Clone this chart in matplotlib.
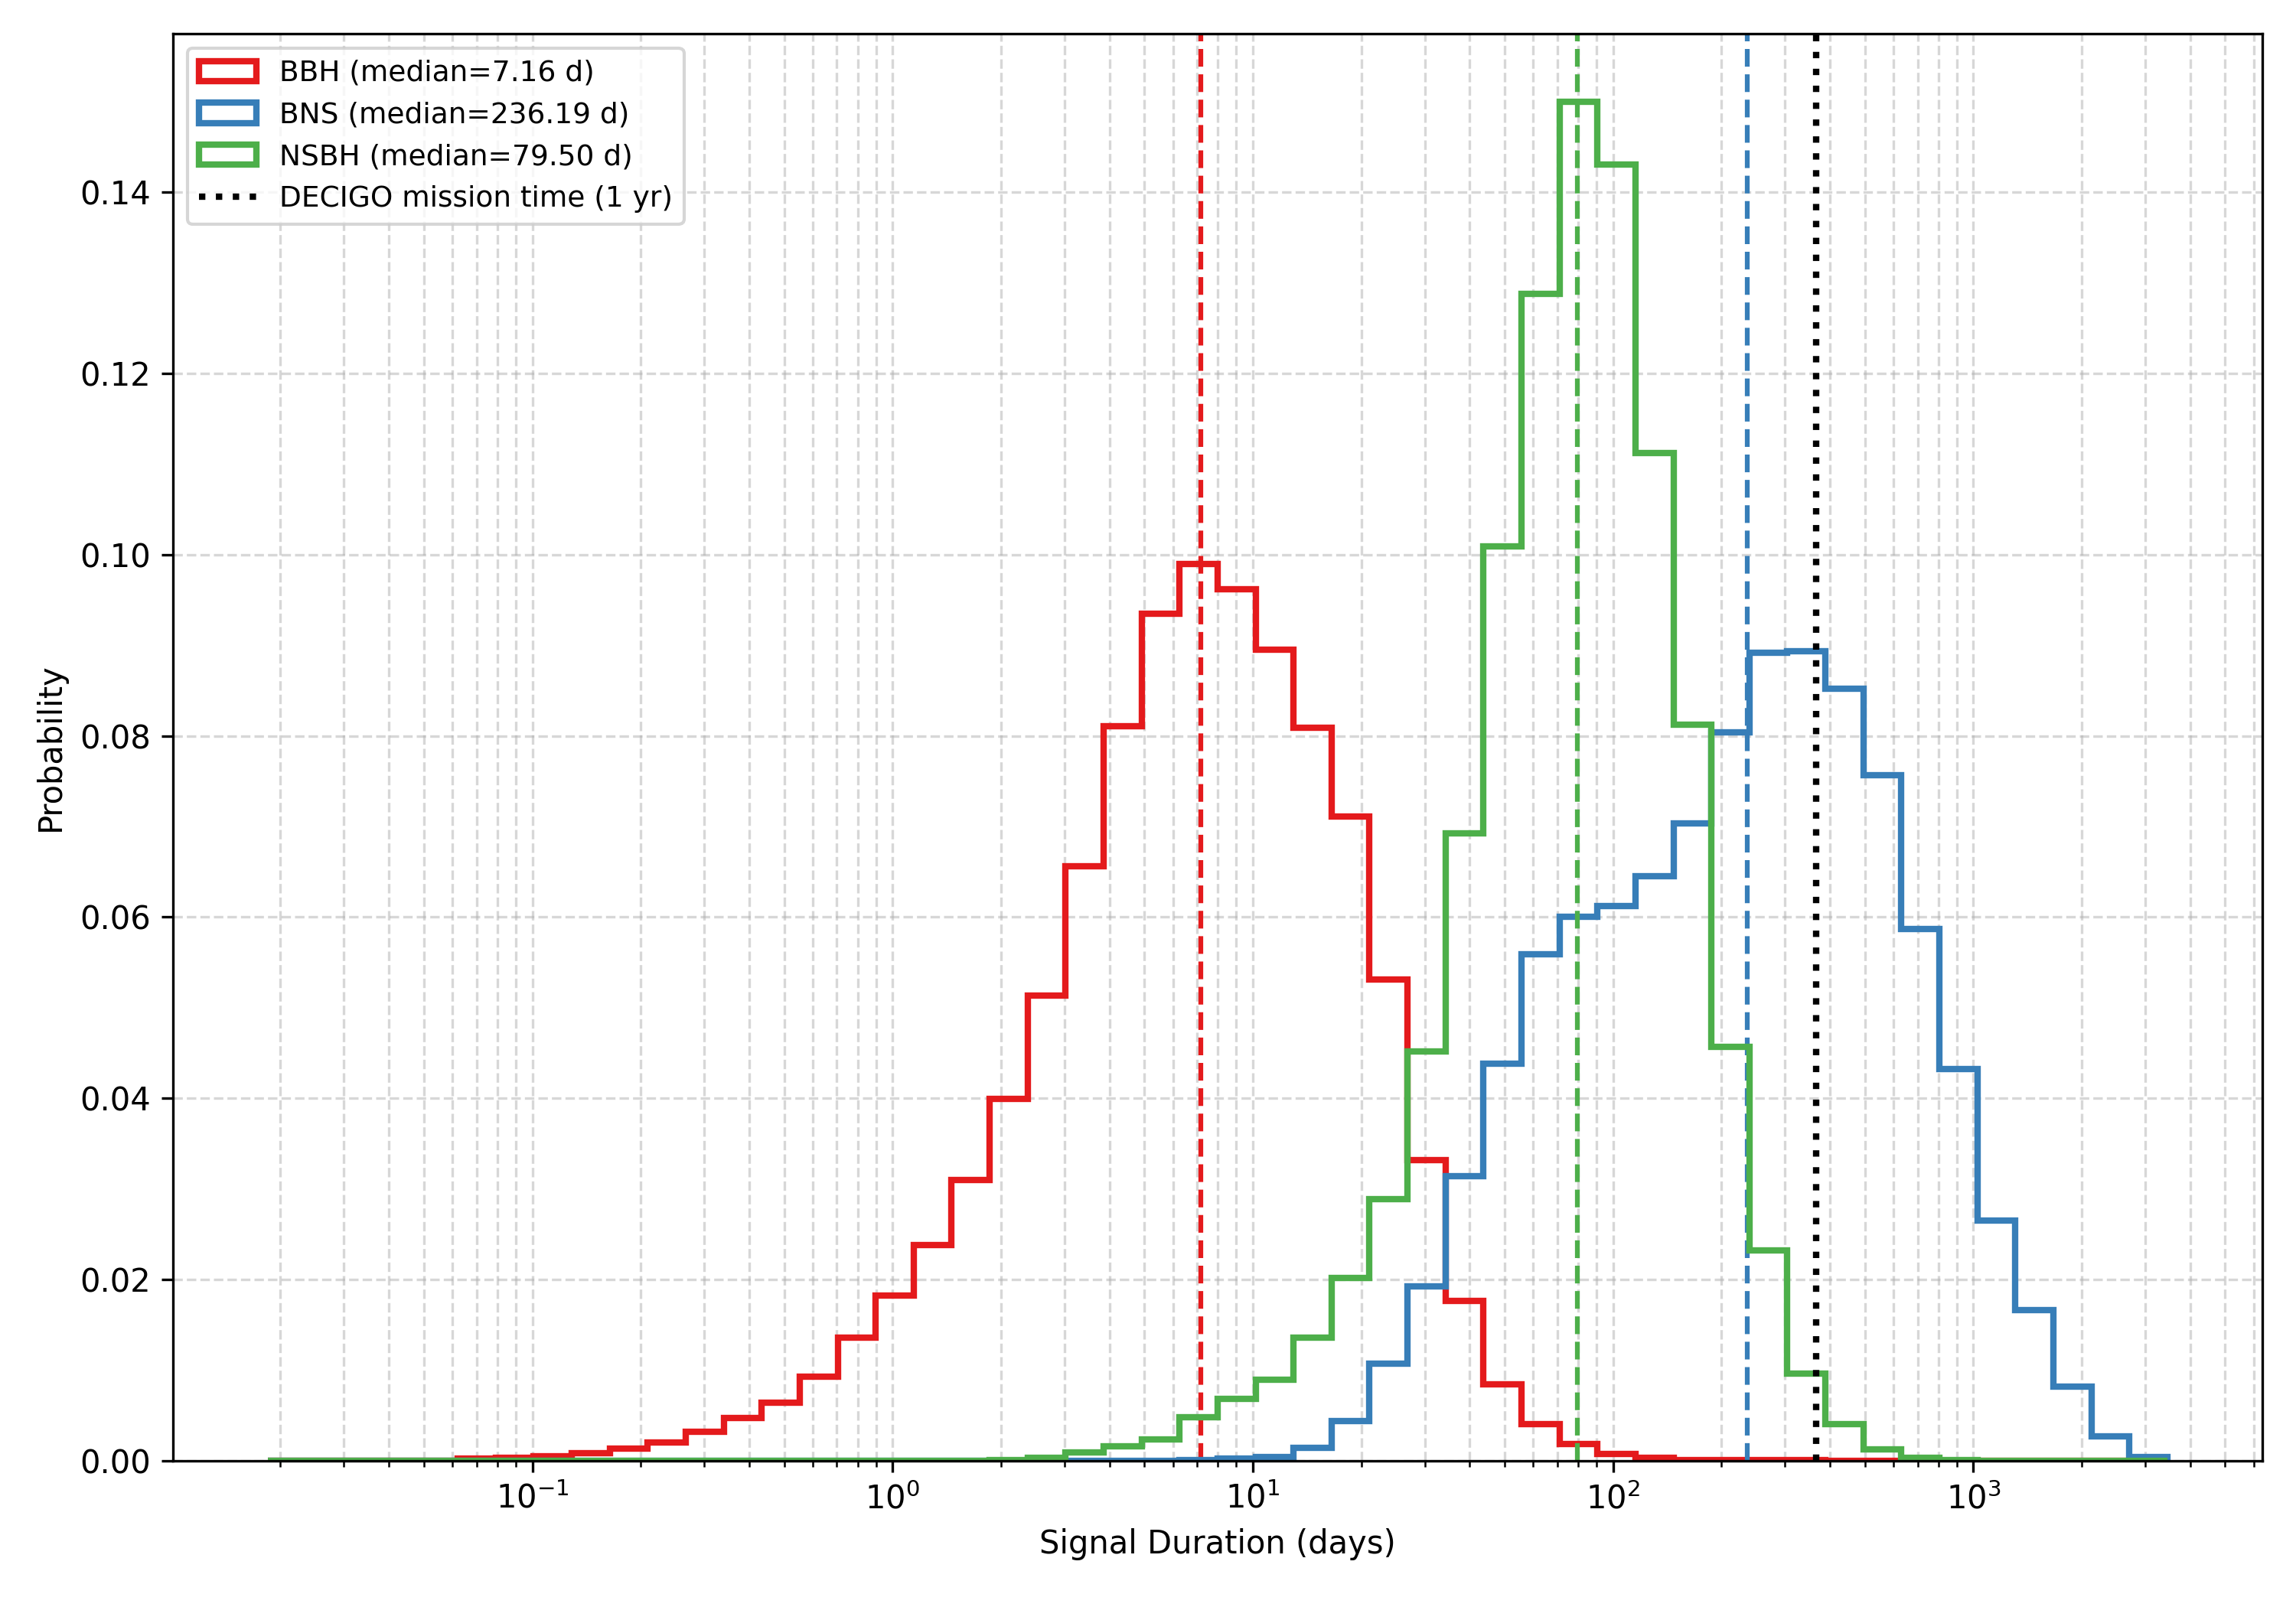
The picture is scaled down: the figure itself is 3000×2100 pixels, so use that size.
import numpy as np
import matplotlib
matplotlib.use("Agg")
import matplotlib.pyplot as plt

# Log-spaced bins shared by all three populations (days)
bin_min = 0.01845
bin_max = 3453.0
n_bins = 50

# Probability per bin
bbh_prob = [
    0, 0, 0, 0, 0, 0.0002, 0.0003, 0.0005, 0.0008, 0.0013,
    0.0020, 0.0032, 0.0047, 0.0064, 0.0093, 0.0136, 0.0182, 0.0238, 0.0310, 0.0399,
    0.0513, 0.0656, 0.0811, 0.0935, 0.0990, 0.0962, 0.0895, 0.0809, 0.0711, 0.0531,
    0.0332, 0.0176, 0.0084, 0.0040, 0.0018, 0.0007, 0.0003, 0.0001, 0.0001, 0.0001,
    0.0001, 0, 0, 0, 0, 0, 0, 0, 0, 0,
]
bns_prob = [
    0, 0, 0, 0, 0, 0, 0, 0, 0, 0,
    0, 0, 0, 0, 0, 0, 0, 0, 0, 0,
    0, 0, 0, 0, 0.0001, 0.0002, 0.0004, 0.0014, 0.0044, 0.0107,
    0.0192, 0.0314, 0.0438, 0.0559, 0.0600, 0.0612, 0.0645, 0.0703, 0.0804, 0.0892,
    0.0893, 0.0852, 0.0757, 0.0587, 0.0432, 0.0265, 0.0166, 0.0082, 0.0027, 0.0004,
]
nsbh_prob = [
    0, 0, 0, 0, 0, 0, 0, 0, 0, 0,
    0, 0, 0, 0, 0, 0, 0, 0, 0, 0.0001,
    0.0003, 0.0009, 0.0016, 0.0023, 0.0048, 0.0068, 0.0089, 0.0136, 0.0202, 0.0289,
    0.0452, 0.0692, 0.1009, 0.1288, 0.1500, 0.1431, 0.1112, 0.0812, 0.0457, 0.0232,
    0.0096, 0.0040, 0.0012, 0.0003, 0.0001, 0, 0, 0, 0, 0,
]

labels = ["BBH", "BNS", "NSBH"]
medians = [7.16, 236.19, 79.50]
colors = ["#e41a1c", "#377eb8", "#4daf4a"]
mission_time = 365.25  # days

bins = np.logspace(np.log10(bin_min), np.log10(bin_max), n_bins + 1)
centers = np.sqrt(bins[:-1] * bins[1:])

fig, ax = plt.subplots(figsize=(10, 7), dpi=300)

for probs, label, med, color in zip(
    (bbh_prob, bns_prob, nsbh_prob), labels, medians, colors
):
    ax.hist(
        centers,
        bins=bins,
        weights=probs,
        histtype="step",
        linewidth=2,
        color=color,
        label=f"{label} (median={med:.2f} d)",
    )
    ax.axvline(med, color=color, linestyle="--", linewidth=1.5)

ax.axvline(
    mission_time, color="black", linestyle=":", linewidth=2,
    label="DECIGO mission time (1 yr)",
)

ax.set_xscale("log")
ax.set_xlabel("Signal Duration (days)")
ax.set_ylabel("Probability")
ax.grid(True, which="both", linestyle="--", alpha=0.5)
ax.legend(loc="upper left", fontsize=9)

fig.subplots_adjust(left=0.0753, right=0.9853, top=0.979, bottom=0.0911)
fig.savefig("out.png", dpi=300)
